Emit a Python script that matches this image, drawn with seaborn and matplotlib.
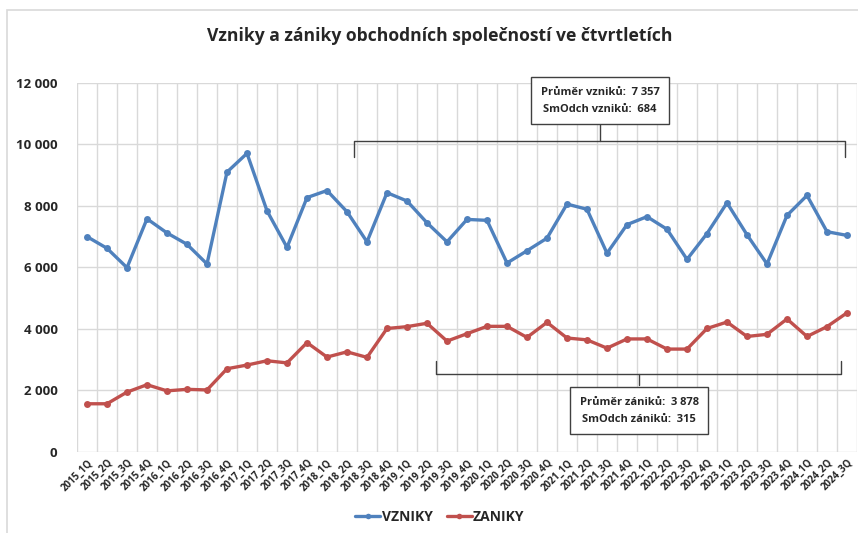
import matplotlib
matplotlib.use("Agg")
import matplotlib.pyplot as plt
import seaborn as sns
import pandas as pd
from matplotlib.ticker import FuncFormatter, MultipleLocator
from matplotlib.patches import Rectangle
from matplotlib.lines import Line2D

# --- data ---
quarters = [f"{y}_{q}Q" for y in range(2015, 2025) for q in range(1, 5)][:39]

vzniky = [7000, 6620, 5990, 7580, 7120, 6750, 6110, 9100, 9710, 7840,
          6650, 8270, 8500, 7810, 6830, 8430, 8160, 7450, 6830, 7560,
          7530, 6140, 6540, 6950, 8060, 7890, 6460, 7390, 7650, 7240,
          6260, 7100, 8100, 7060, 6110, 7690, 8340, 7160, 7040]

zaniky = [1560, 1560, 1940, 2180, 1980, 2030, 2010, 2700, 2820, 2960,
          2890, 3550, 3080, 3250, 3070, 4010, 4070, 4180, 3600, 3840,
          4080, 4080, 3720, 4210, 3700, 3640, 3370, 3670, 3670, 3340,
          3340, 4010, 4220, 3750, 3820, 4320, 3750, 4070, 4520]

serie_names = ["VZNIKY", "ZANIKY"]
colors = {"VZNIKY": "#4F81BD", "ZANIKY": "#C0504D"}

box_vz = "Průměr vzniků:  7 357\nSmOdch vzniků:  684"
box_za = "Průměr zániků:  3 878\nSmOdch zániků:  315"

df = pd.DataFrame({"kvartal": list(range(len(quarters))) * 2,
                   "pocet": vzniky + zaniky,
                   "serie": ["VZNIKY"] * len(vzniky) + ["ZANIKY"] * len(zaniky)})

sns.set_theme(style="white")
plt.rcParams["font.family"] = ["Open Sans", "DejaVu Sans"]

fig = plt.figure(figsize=(8.58, 5.33), dpi=100)
ax = fig.add_axes([77 / 858, 1 - 451.7 / 533, 780 / 858, (451.7 - 83) / 533])

# ramecek grafu
fig.patches.append(Rectangle((7 / 858, -0.1), 1.2, 1 - 10 / 533 + 0.1, transform=fig.transFigure,
                             fill=False, edgecolor="#D9D9D9", linewidth=1.2))

sns.lineplot(data=df, x="kvartal", y="pocet", hue="serie", palette=colors,
             marker="o", markersize=5, markeredgewidth=0, linewidth=2.4,
             legend=False, ax=ax, zorder=3)

ax.set_xlim(-0.5, len(quarters) - 0.5)
ax.set_ylim(0, 12000)
ax.yaxis.set_major_locator(MultipleLocator(2000))
ax.yaxis.set_major_formatter(FuncFormatter(lambda v, p: f"{int(v):,}".replace(",", " ")))
ax.set_xticks(range(len(quarters)))
ax.set_xticklabels(quarters, rotation=45, ha="right", rotation_mode="anchor",
                   fontsize=7, fontweight="bold")
ax.set_xticks([i - 0.5 for i in range(len(quarters) + 1)], minor=True)
for lab in ax.get_yticklabels():
    lab.set_fontsize(9.5)
    lab.set_fontweight("bold")
ax.tick_params(axis="both", which="both", length=0)
ax.tick_params(axis="y", pad=14)
ax.tick_params(axis="x", pad=4)
ax.grid(False)
ax.grid(True, axis="y", which="major", color="#D9D9D9", linewidth=1)
ax.grid(True, axis="x", which="minor", color="#D9D9D9", linewidth=1)
for s in ax.spines.values():
    s.set_visible(False)
ax.set_xlabel("")
ax.set_ylabel("")

# horni zavorka (vzniky)
br = dict(color="#404040", linewidth=1, zorder=4)
ax.plot([13.35, 13.35, 37.9, 37.9], [9600, 10110, 10110, 9600], **br)
ax.plot([25.65, 25.65], [10110, 10660], **br)
ax.text(25.65, 11430, box_vz, ha="center", va="center", fontsize=8, fontweight="bold",
        linespacing=1.75, zorder=5,
        bbox=dict(boxstyle="square,pad=0.85", facecolor="white", edgecolor="#404040", linewidth=1))

# dolni zavorka (zaniky)
ax.plot([17.45, 17.45, 37.7, 37.7], [2950, 2530, 2530, 2950], **br)
ax.plot([27.6, 27.6], [2530, 2180], **br)
ax.text(27.6, 1330, box_za, ha="center", va="center", fontsize=8, fontweight="bold",
        linespacing=1.75, zorder=5,
        bbox=dict(boxstyle="square,pad=0.85", facecolor="white", edgecolor="#404040", linewidth=1))

fig.text(440 / 858, 1 - 36 / 533, "Vzniky a zániky obchodních společností ve čtvrtletích",
         ha="center", va="center", fontsize=12.6, fontweight="bold")

handles = [Line2D([0], [0], color=colors[n], marker="o", markersize=4, linewidth=2.4,
                  markeredgewidth=0) for n in serie_names]
fig.legend(handles, serie_names, loc="center", bbox_to_anchor=(440 / 858, 1 - 517 / 533),
           ncol=2, frameon=False, prop={"weight": "bold", "size": 10},
           handlelength=1.8, handletextpad=0.1, columnspacing=1.0)

fig.savefig("out.png", dpi=100)
